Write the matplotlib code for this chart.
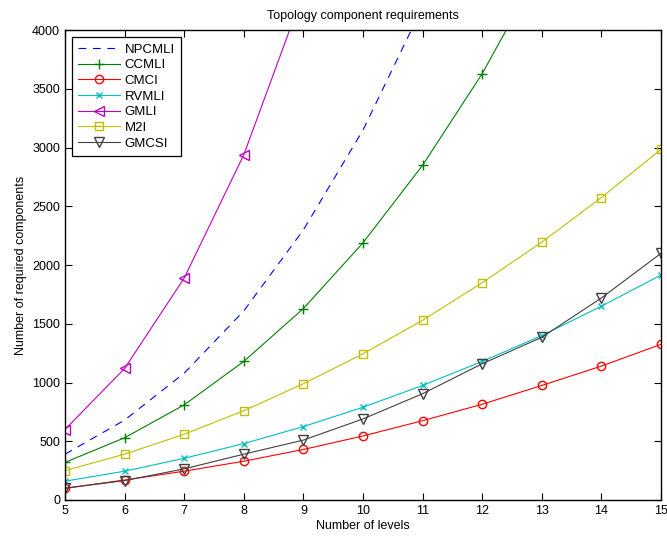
import matplotlib
matplotlib.use("Agg")
import matplotlib.pyplot as plt
import numpy as np

plt.rcParams['font.family'] = ['Liberation Sans', 'DejaVu Sans']

levels = [5, 6, 7, 8, 9, 10, 11, 12, 13, 14, 15]

npcmli = [390, 680, 1080, 1610, 2300, 3150, 4200, 5450, 6900, 8600, 10500]
ccmli = [320, 530, 810, 1180, 1630, 2190, 2850, 3630, 4550, 5600, 6800]
cmci = [100, 170, 245, 330, 430, 545, 675, 815, 975, 1140, 1325]
rvmli = [160, 245, 355, 480, 625, 790, 975, 1180, 1400, 1650, 1915]
gmli = [600, 1120, 1890, 2940, 4320, 6100, 8300, 11000, 14200, 18000, 22500]
m2i = [250, 390, 560, 760, 990, 1245, 1530, 1850, 2195, 2575, 2985]
gmcsi = [100, 165, 265, 390, 510, 690, 905, 1160, 1385, 1720, 2100]

fig = plt.figure(figsize=(6.67, 5.39), dpi=100)
ax = fig.add_axes([0.0975, 0.0724, 0.8935, 0.8716])

lw = 0.8
ax.plot(levels, npcmli, '--', color=(0, 0, 1), lw=lw, dashes=(7, 6), label='NPCMLI')
ax.plot(levels, ccmli, '-+', color=(0, 0.5, 0), lw=lw, ms=7, mew=1.0, label='CCMLI')
ax.plot(levels, cmci, '-o', color=(1, 0, 0), lw=lw, ms=6, mfc='none', label='CMCI')
ax.plot(levels, rvmli, '-x', color=(0, 0.75, 0.75), lw=lw, ms=4.5, label='RVMLI')
ax.plot(levels, gmli, '-<', color=(0.75, 0, 0.75), lw=lw, ms=7, mfc='none', label='GMLI')
ax.plot(levels, m2i, '-s', color=(0.75, 0.75, 0), lw=lw, ms=6, mfc='none', label='M2I')
ax.plot(levels, gmcsi, '-v', color=(0.25, 0.25, 0.25), lw=lw, ms=7, mfc='none', label='GMCSI')

ax.set_xlim(5, 15)
ax.set_ylim(0, 4000)
ax.set_xticks(levels)
ax.set_yticks(np.arange(0, 4001, 500))
ax.tick_params(direction='in', top=True, right=True, labelsize=9, length=5)
for s in ax.spines.values():
    s.set_linewidth(1.0)

ax.set_title('Topology component requirements', fontsize=9, pad=8)
ax.set_xlabel('Number of levels', fontsize=9, labelpad=2)
ax.set_ylabel('Number of required components', fontsize=9)

leg = ax.legend(loc='upper left', fontsize=9.5, fancybox=False, framealpha=1,
                edgecolor='black', borderaxespad=0.5, handlelength=3.2,
                labelspacing=0.26, borderpad=0.5, handletextpad=0.3)
leg.get_frame().set_linewidth(0.9)

fig.savefig('out.png', dpi=100)
